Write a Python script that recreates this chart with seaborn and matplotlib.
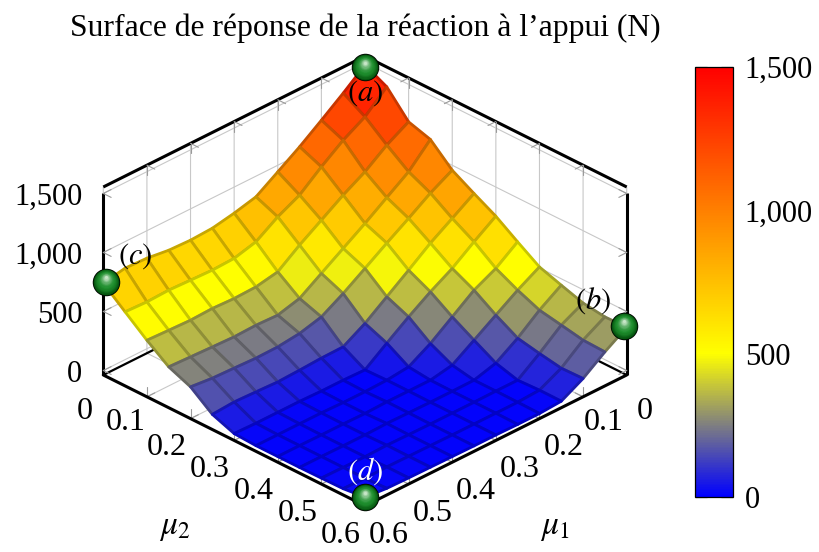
import numpy as np
import matplotlib
matplotlib.use("Agg")
import matplotlib.pyplot as plt
import seaborn as sns
from matplotlib.cm import ScalarMappable
from matplotlib.colors import Normalize
from mpl_toolkits.mplot3d import proj3d

# ---------- data ----------
MU1 = [0.00, 0.05, 0.10, 0.15, 0.20, 0.25, 0.30, 0.35, 0.40, 0.45, 0.50, 0.55, 0.60]
MU2 = [0.00, 0.05, 0.10, 0.15, 0.20, 0.25, 0.30, 0.35, 0.40, 0.45, 0.50, 0.55, 0.60]
# rows: mu1, columns: mu2
REACTION = [
    [1480, 1387, 1183, 1126, 958, 853, 753, 628, 508, 446, 387, 362, 367],
    [1334, 1225, 1078, 944, 856, 734, 628, 495, 403, 326, 292, 257, 250],
    [1197, 1119, 944, 818, 734, 617, 495, 403, 284, 181, 144, 112, 117],
    [1064, 986, 839, 691, 617, 480, 389, 269, 164, 62, 10, 18, 17],
    [944, 839, 719, 572, 495, 347, 269, 136, 45, 10, 10, 8, 5],
    [825, 747, 600, 453, 375, 214, 139, 30, 10, 8, 8, 8, 5],
    [779, 628, 466, 333, 269, 108, 5, 10, 10, 8, 8, 8, 8],
    [744, 580, 431, 284, 221, 105, 10, 5, 11, 10, 8, 8, 8],
    [735, 573, 425, 291, 200, 95, 10, 5, 5, 13, 10, 10, 10],
    [742, 580, 433, 285, 197, 88, 15, 10, 8, 8, 13, 12, 12],
    [767, 588, 426, 292, 205, 96, 15, 10, 8, 8, 8, 14, 14],
    [775, 581, 433, 300, 212, 103, 15, 10, 10, 10, 10, 10, 18],
    [740, 589, 441, 308, 231, 90, 20, 10, 10, 10, 12, 15, 35],
]
MU_TICKS = [0, 0.1, 0.2, 0.3, 0.4, 0.5, 0.6]
MU_LABELS = ["0", "0.1", "0.2", "0.3", "0.4", "0.5", "0.6"]
Z_TICKS = [0, 500, 1000, 1500]
Z_LABELS = ["0", "500", "1,000", "1,500"]
TITLE = "Surface de réponse de la réaction à l’appui (N)"
MARK_MU1 = [0.0, 0.0, 0.594, 0.6]
MARK_MU2 = [0.0, 0.594, 0.0, 0.6]
MARK_Z = [1462, 367, 740, 35]
MARK_NAMES = ["$(a)$", "$(b)$", "$(c)$", "$(d)$"]
MARK_COLORS = ["black", "black", "black", "white"]
MARK_DX = [0, -31, 29, 0]
MARK_DY = [26, -25, -26, -26]

ZLIM = (-38, 1555)
FS = 22
FS_MU = 23

sns.set_theme(style="white", rc={
    "grid.color": "#c8c8c8", "grid.linewidth": 0.8,
    "axes.edgecolor": "black", "text.color": "black",
    "xtick.color": "black", "ytick.color": "black", "axes.labelcolor": "black",
})
plt.rcParams["font.family"] = ["Liberation Serif", "DejaVu Serif"]
plt.rcParams["mathtext.fontset"] = "stix"

cmap = sns.blend_palette(["#0000ff", "#ffff00", "#ff8000", "#ff0000"], as_cmap=True)
norm = Normalize(0, 1500)

fig = plt.figure(figsize=(8.19, 5.52), dpi=100)
W, H = 819, 552
side = 700
cx, cy = 365, 346.5


def place(ax3d, px, py):
    ax3d.set_position([(px - side / 2) / W, 1 - (py + side / 2) / H, side / W, side / H])


ax = fig.add_axes([0, 0, 1, 1], projection="3d", computed_zorder=False)
place(ax, cx, cy)
ax.patch.set_alpha(0)
ax.set_proj_type("ortho")
ax.view_init(elev=30, azim=45)
ax.set_xlim(0, 0.6, view_margin=0)
ax.set_ylim(0, 0.6, view_margin=0)
ax.set_zlim(*ZLIM, view_margin=0)

X, Y = np.meshgrid(MU1, MU2, indexing="ij")
Z = np.array(REACTION, dtype=float)
mean_z = (Z[:-1, :-1] + Z[1:, :-1] + Z[:-1, 1:] + Z[1:, 1:]) / 4
faces = cmap(norm(mean_z))
edges = faces.copy()
edges[..., :3] *= 0.78
surf = ax.plot_surface(X, Y, Z, rstride=1, cstride=1, facecolors=faces, shade=False,
                       linewidth=2.0, antialiased=True, zorder=3)
surf.set_edgecolor(edges.reshape(-1, 4))

# panes, axis lines
for axis in (ax.xaxis, ax.yaxis, ax.zaxis):
    axis.set_pane_color((1, 1, 1, 0))
    axis.pane.set_edgecolor((1, 1, 1, 0))
    axis.line.set_color((0, 0, 0, 0))
    axis._axinfo["tick"]["inward_factor"] = 0
    axis._axinfo["tick"]["outward_factor"] = 0
ax.grid(True)
ax.tick_params(axis="both", length=0, width=0)

ax.set_xticks(MU_TICKS, labels=MU_LABELS, fontsize=FS_MU)
ax.set_yticks(MU_TICKS, labels=MU_LABELS, fontsize=FS_MU)
ax.set_zticks(Z_TICKS, labels=Z_LABELS, fontsize=FS)
ax.tick_params(axis="x", pad=16, labelcolor="black")
ax.tick_params(axis="y", pad=16, labelcolor="black")
ax.tick_params(axis="z", pad=2.5, labelcolor="black")
for lab in ax.get_xticklabels():
    lab.set(ha="center", va="center")
for lab in ax.get_yticklabels():
    lab.set(ha="center", va="center")
for lab in ax.get_zticklabels():
    lab.set(ha="right", va="center_baseline")
for axis in (ax.xaxis, ax.yaxis):
    mt = axis.get_major_ticks()
    mt[0].set_pad(10.5)
    mt[0].label1.set_va("top")
    mt[1].set_pad(13)
ax.set_xlabel(r"$\mu_1$", fontsize=24, labelpad=38, rotation=0)
ax.set_ylabel(r"$\mu_2$", fontsize=24, labelpad=38, rotation=0)
ax.xaxis.set_rotate_label(False)
ax.yaxis.set_rotate_label(False)
ax.xaxis._axinfo["label"]["va"] = "top"
ax.yaxis._axinfo["label"]["va"] = "top"

# box
x0, x1 = 0, 0.6
z0, z1 = ZLIM
back_lines = [([x1, x0, x0], [x0, x0, x1], [z1, z1, z1], 2.2),
              ([x1, x0, x0], [x0, x0, x1], [z0, z0, z0], 1.6),
              ([x1, x1], [x0, x0], [z0, 1500], 2.2),
              ([x0, x0], [x1, x1], [z0, 1500], 2.2)]
for xs, ys, zs, lw in back_lines:
    ax.plot(xs, ys, zs, color="black", lw=lw, zorder=2, solid_capstyle="butt")
ax.plot([x1, x1, x0], [x0, x1, x1], [z0, z0, z0], color="black", lw=2.2, zorder=4,
        solid_joinstyle="miter")

# small ticks
tc, tl = "#9a9a9a", 0.8
dm, dz = 0.018, 85
for t in MU_TICKS[1:-1]:
    # top back edges
    ax.plot([t, t], [0, dm], [z1, z1], color=tc, lw=tl, zorder=2)
    ax.plot([t, t], [0, 0], [z1, z1 - dz], color=tc, lw=tl, zorder=2)
    ax.plot([0, dm], [t, t], [z1, z1], color=tc, lw=tl, zorder=2)
    ax.plot([0, 0], [t, t], [z1, z1 - dz], color=tc, lw=tl, zorder=2)
    # bottom front edges
    ax.plot([t, t], [x1, x1 - dm], [z0, z0], color=tc, lw=tl, zorder=2)
    ax.plot([t, t], [x1, x1], [z0, z0 + dz], color=tc, lw=tl, zorder=2)
    ax.plot([x1, x1 - dm], [t, t], [z0, z0], color=tc, lw=tl, zorder=2)
    ax.plot([x1, x1], [t, t], [z0, z0 + dz], color=tc, lw=tl, zorder=2)
for t in Z_TICKS:
    ax.plot([x1, x1 - dm], [0, 0], [t, t], color=tc, lw=tl, zorder=2)
    ax.plot([x1, x1], [0, dm], [t, t], color=tc, lw=tl, zorder=2)
    ax.plot([0, dm], [x1, x1], [t, t], color=tc, lw=tl, zorder=2)
    ax.plot([0, 0], [x1, x1 - dm], [t, t], color=tc, lw=tl, zorder=2)


def to_px(x, y, z):
    xp, yp, _ = proj3d.proj_transform(x, y, z, ax.get_proj())
    px, py = ax.transData.transform((xp, yp))
    return px, H - py


# calibrate the box to the reference's pixel size and place
zoom = 1.0
pos_x, pos_y = cx, cy
for _ in range(4):
    ax.set_box_aspect((1, 1, 0.5866), zoom=zoom)
    place(ax, pos_x, pos_y)
    fig.canvas.draw()
    left = to_px(0.6, 0, z0)
    right = to_px(0, 0.6, z0)
    half = (right[0] - left[0]) / 2
    zoom *= 261.7 / half
    pos_x += 365 - (left[0] + right[0]) / 2
    pos_y += 375 - (left[1] + right[1]) / 2
ax.set_box_aspect((1, 1, 0.5866), zoom=zoom)
place(ax, pos_x, pos_y)
fig.canvas.draw()

fig.suptitle(TITLE, x=365 / W, y=1 - 28 / H, va="center", ha="center", fontsize=22.8)

# colour bar
cax = fig.add_axes([695 / W, 1 - 497 / H, 38 / W, 430 / H])
cbar = fig.colorbar(ScalarMappable(norm=norm, cmap=cmap), cax=cax, ticks=Z_TICKS)
cbar.set_ticklabels(Z_LABELS)
cbar.outline.set_linewidth(0.9)
cbar.outline.set_edgecolor("black")
cax.tick_params(left=True, right=True, direction="in", length=8.5, width=1.0,
                color="#999999", labelsize=FS, pad=8.5)

# overlay with marks
ov = fig.add_axes([0, 0, 1, 1], zorder=5)
ov.set_xlim(0, W)
ov.set_ylim(H, 0)
ov.axis("off")
px2 = lambda d: (d * 0.72) ** 2
ball_d = np.linspace(26, 3, 18)
ball_t = np.linspace(0, 1, 18)
ball_dark = np.array([0.0, 0.28, 0.03])
ball_mid = np.array([0.12, 0.56, 0.18])
ball_light = np.array([0.78, 0.90, 0.78])
for mx, my, mz, name, col, dx, dy in zip(MARK_MU1, MARK_MU2, MARK_Z, MARK_NAMES,
                                         MARK_COLORS, MARK_DX, MARK_DY):
    px, py = to_px(mx, my, mz)
    ov.scatter([px], [py], s=px2(27.5), color="black", linewidths=0, zorder=6)
    for d, t in zip(ball_d, ball_t):
        if t < 0.4:
            c = ball_dark + (ball_mid - ball_dark) * (t / 0.4) ** 0.7
        else:
            c = ball_mid + (ball_light - ball_mid) * ((t - 0.4) / 0.6) ** 1.5
        ov.scatter([px], [py - 4.5 * t], s=px2(d), color=[c], linewidths=0, zorder=6)
    ov.text(px + dx, py + dy, name, color=col, fontsize=FS, ha="center", va="center", zorder=7)

fig.savefig("out.png", dpi=100)
